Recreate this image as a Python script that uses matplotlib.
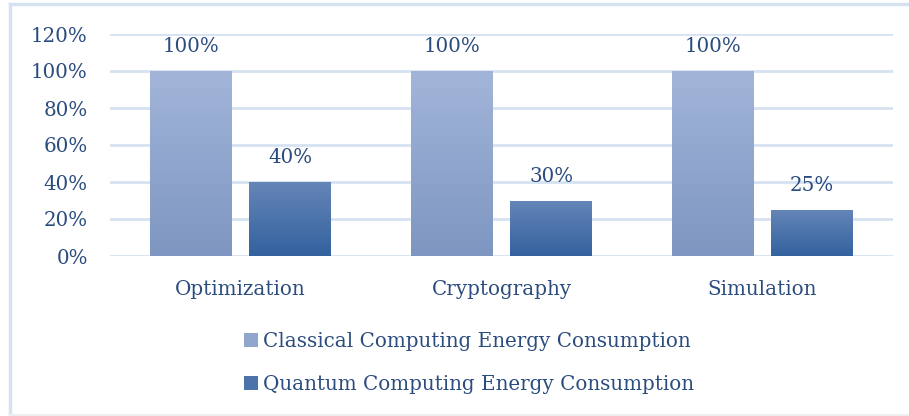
import matplotlib.pyplot as plt
import numpy as np
from matplotlib.colors import LinearSegmentedColormap
from matplotlib.lines import Line2D

categories = ["Optimization", "Cryptography", "Simulation"]
classical = [1.00, 1.00, 1.00]
quantum = [0.40, 0.30, 0.25]
series_names = ["Classical Computing Energy Consumption",
                "Quantum Computing Energy Consumption"]
yticks = [0, 0.2, 0.4, 0.6, 0.8, 1.0, 1.2]

txt = "#2B4C7E"
fs = 14.3
plt.rcParams['font.family'] = ['DejaVu Serif']

fig = plt.figure(figsize=(9.09, 4.16), dpi=100)
ax = fig.add_axes([110 / 909, 1 - 256 / 416, 783 / 909, 222 / 416])

# outer chart border: left and top edges, faint bottom
fig.add_artist(Line2D([10 / 909, 10 / 909], [0, 1 - 4 / 416], color="#D6E2F2", lw=2.5))
fig.add_artist(Line2D([10 / 909, 1], [1 - 4 / 416, 1 - 4 / 416], color="#D6E2F2", lw=2.5))
fig.add_artist(Line2D([10 / 909, 1], [1.5 / 416, 1.5 / 416], color="#EEEEEE", lw=1.5))

x = np.arange(len(categories))
w = 0.314
off = 0.19

grads = [("#A2B5D9", "#7E96C1"), ("#6585B7", "#33629F")]
for vals, shift, (c_top, c_bot), name in zip([classical, quantum], [-off, off], grads, series_names):
    cmap = LinearSegmentedColormap.from_list("g", [c_bot, c_top])
    bars = ax.bar(x + shift, vals, w, color=cmap(0.5), label=name, zorder=2)
    for b, v in zip(bars, vals):
        x0 = b.get_x()
        im = ax.imshow(np.linspace(0, 1, 100).reshape(-1, 1), cmap=cmap, origin="lower",
                       extent=(x0, x0 + b.get_width(), 0, v), aspect="auto", zorder=3)
        im.set_clip_path(b)
        ax.annotate(f"{v * 100:.0f}%", (b.get_x() + b.get_width() / 2, v),
                    xytext=(0, 10.5), textcoords="offset points",
                    ha="center", va="bottom", fontsize=fs, color=txt)

ax.set_xlim(-0.5, len(categories) - 0.5)
ax.set_ylim(0, 1.2)
ax.set_yticks(yticks)
ax.set_yticklabels([f"{t * 100:.0f}%" for t in yticks])
ax.set_xticks(x)
ax.set_xticklabels(categories)
ax.tick_params(axis="both", length=0, labelsize=fs, labelcolor=txt)
ax.tick_params(axis="y", pad=16)
ax.tick_params(axis="x", pad=17)
ax.grid(axis="y", color="#D6E2F2", linewidth=2, zorder=0)
ax.set_axisbelow(True)
for s in ax.spines.values():
    s.set_visible(False)

leg = fig.legend(loc="upper left", bbox_to_anchor=(226 / 909, 1 - 314 / 416),
                 frameon=False, fontsize=fs, handlelength=0.7, handleheight=0.7,
                 handletextpad=0.25, labelspacing=1.2, labelcolor=txt)

fig.savefig("out.png", dpi=100)
